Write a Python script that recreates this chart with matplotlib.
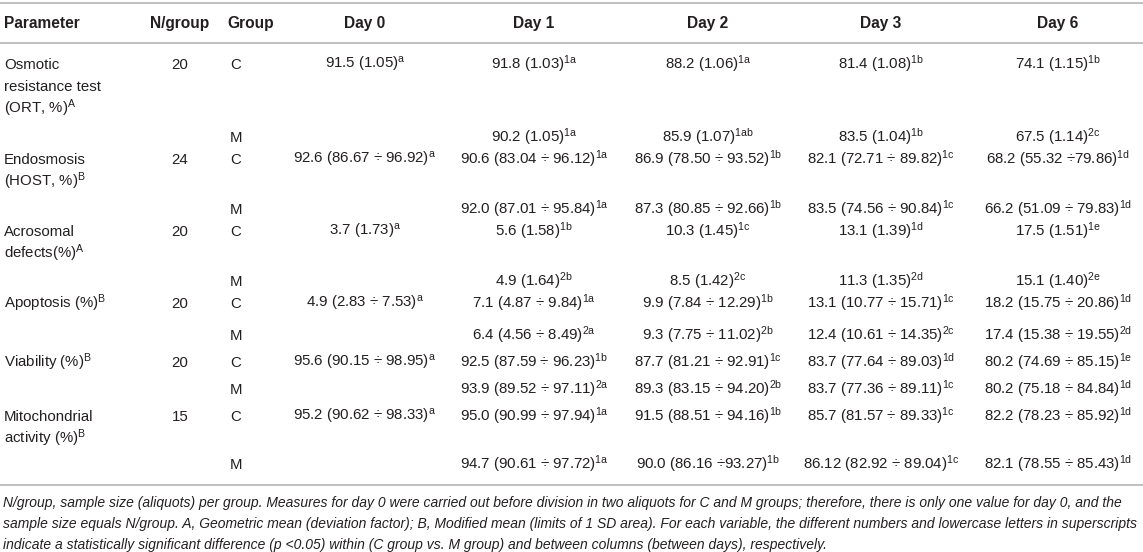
import matplotlib
matplotlib.use("Agg")
import matplotlib.pyplot as plt

plt.rcParams['font.family'] = ['Liberation Sans', 'DejaVu Sans']
plt.rcParams['mathtext.fontset'] = 'custom'
plt.rcParams['mathtext.rm'] = 'Liberation Sans'
plt.rcParams['mathtext.it'] = 'Liberation Sans:italic'
plt.rcParams['mathtext.bf'] = 'Liberation Sans:bold'

# table content
headers = ["Parameter", "N/group", "Group", "Day 0", "Day 1", "Day 2", "Day 3", "Day 6"]
params = [["Osmotic", "resistance test", "(ORT, %)"],
          ["Endosmosis", "(HOST, %)"],
          ["Acrosomal", "defects(%)"],
          ["Apoptosis (%)"],
          ["Viability (%)"],
          ["Mitochondrial", "activity (%)"]]
param_sup = ["A", "B", "A", "B", "B", "B"]
n_group = [20, 24, 20, 20, 20, 15]
groups = ["C", "M"]

day0 = ["91.5 (1.05)", "92.6 (86.67 ÷ 96.92)", "3.7 (1.73)",
        "4.9 (2.83 ÷ 7.53)", "95.6 (90.15 ÷ 98.95)", "95.2 (90.62 ÷ 98.33)"]
day0_sup = ["a", "a", "a", "a", "a", "a"]

day1_c = ["91.8 (1.03)", "90.6 (83.04 ÷ 96.12)", "5.6 (1.58)",
          "7.1 (4.87 ÷ 9.84)", "92.5 (87.59 ÷ 96.23)", "95.0 (90.99 ÷ 97.94)"]
day1_c_sup = ["1a", "1a", "1b", "1a", "1b", "1a"]
day1_m = ["90.2 (1.05)", "92.0 (87.01 ÷ 95.84)", "4.9 (1.64)",
          "6.4 (4.56 ÷ 8.49)", "93.9 (89.52 ÷ 97.11)", "94.7 (90.61 ÷ 97.72)"]
day1_m_sup = ["1a", "1a", "2b", "2a", "2a", "1a"]

day2_c = ["88.2 (1.06)", "86.9 (78.50 ÷ 93.52)", "10.3 (1.45)",
          "9.9 (7.84 ÷ 12.29)", "87.7 (81.21 ÷ 92.91)", "91.5 (88.51 ÷ 94.16)"]
day2_c_sup = ["1a", "1b", "1c", "1b", "1c", "1b"]
day2_m = ["85.9 (1.07)", "87.3 (80.85 ÷ 92.66)", "8.5 (1.42)",
          "9.3 (7.75 ÷ 11.02)", "89.3 (83.15 ÷ 94.20)", "90.0 (86.16 ÷93.27)"]
day2_m_sup = ["1ab", "1b", "2c", "2b", "2b", "1b"]

day3_c = ["81.4 (1.08)", "82.1 (72.71 ÷ 89.82)", "13.1 (1.39)",
          "13.1 (10.77 ÷ 15.71)", "83.7 (77.64 ÷ 89.03)", "85.7 (81.57 ÷ 89.33)"]
day3_c_sup = ["1b", "1c", "1d", "1c", "1d", "1c"]
day3_m = ["83.5 (1.04)", "83.5 (74.56 ÷ 90.84)", "11.3 (1.35)",
          "12.4 (10.61 ÷ 14.35)", "83.7 (77.36 ÷ 89.11)", "86.12 (82.92 ÷ 89.04)"]
day3_m_sup = ["1b", "1c", "2d", "2c", "1c", "1c"]

day6_c = ["74.1 (1.15)", "68.2 (55.32 ÷79.86)", "17.5 (1.51)",
          "18.2 (15.75 ÷ 20.86)", "80.2 (74.69 ÷ 85.15)", "82.2 (78.23 ÷ 85.92)"]
day6_c_sup = ["1b", "1d", "1e", "1d", "1e", "1d"]
day6_m = ["67.5 (1.14)", "66.2 (51.09 ÷ 79.83)", "15.1 (1.40)",
          "17.4 (15.38 ÷ 19.55)", "80.2 (75.18 ÷ 84.84)", "82.1 (78.55 ÷ 85.43)"]
day6_m_sup = ["2c", "1d", "2e", "2d", "1d", "1d"]

footnote = [
    "N/group, sample size (aliquots) per group. Measures for day 0 were carried out before division in two aliquots for C and M groups; therefore, there is only one value for day 0, and the",
    "sample size equals N/group. A, Geometric mean (deviation factor); B, Modified mean (limits of 1 SD area). For each variable, the different numbers and lowercase letters in superscripts",
    "indicate a statistically significant difference (p <0.05) within (C group vs. M group) and between columns (between days), respectively.",
]

# layout (pixels)
W, H = 1143, 552
c_rows = [64, 159, 231, 303, 362, 416]
m_rows = [137, 209, 281, 335, 389, 464]
day_x = [365, 534, 708, 881, 1058]
line_h = 22
fs = 10.8
txt_col = "#231f20"
rule_col = "#b4b4b4"


def sup(base, s):
    return base + r"$^{\mathrm{" + s + "}}$"


fig = plt.figure(figsize=(W / 100, H / 100), dpi=100)
ax = fig.add_axes([0, 0, 1, 1])
ax.set_xlim(0, W)
ax.set_ylim(H, 0)
ax.axis("off")

for y in [3, 43, 485]:
    ax.plot([0, W], [y, y], color=rule_col, lw=1.2)

# header
hy = 23 + 5
ax.text(4, hy, headers[0], fontsize=11.2, fontweight="bold", color=txt_col, va="baseline")
ax.text(180, hy, headers[1], fontsize=11.2, fontweight="bold", color=txt_col, va="baseline", ha="center")
ax.text(227, hy, headers[2], fontsize=11.2, fontweight="bold", color=txt_col, va="baseline")
for x, h in zip(day_x, headers[3:]):
    ax.text(x, hy, h, fontsize=11.2, fontweight="bold", color=txt_col, va="baseline", ha="center")

cols_c = [day1_c, day2_c, day3_c, day6_c]
cols_c_sup = [day1_c_sup, day2_c_sup, day3_c_sup, day6_c_sup]
cols_m = [day1_m, day2_m, day3_m, day6_m]
cols_m_sup = [day1_m_sup, day2_m_sup, day3_m_sup, day6_m_sup]

for i in range(len(params)):
    yc = c_rows[i] + 5
    ym = m_rows[i] + 5
    lines = params[i]
    for k, ln in enumerate(lines):
        s = sup(ln, param_sup[i]) if k == len(lines) - 1 else ln
        ax.text(4, yc + k * line_h, s, fontsize=fs, color=txt_col, va="baseline")
    ax.text(180, yc, str(n_group[i]), fontsize=fs, color=txt_col, va="baseline", ha="center")
    ax.text(230, yc, groups[0], fontsize=fs, color=txt_col, va="baseline")
    ax.text(230, ym, groups[1], fontsize=fs, color=txt_col, va="baseline")
    ax.text(day_x[0], yc, sup(day0[i], day0_sup[i]), fontsize=fs, color=txt_col,
            va="baseline", ha="center")
    for j in range(4):
        ax.text(day_x[j + 1], yc, sup(cols_c[j][i], cols_c_sup[j][i]), fontsize=fs,
                color=txt_col, va="baseline", ha="center")
        ax.text(day_x[j + 1], ym, sup(cols_m[j][i], cols_m_sup[j][i]), fontsize=fs,
                color=txt_col, va="baseline", ha="center")

for k, ln in enumerate(footnote):
    ax.text(3, 503 + k * 21 + 4, ln, fontsize=10.0, style="italic", color=txt_col, va="baseline")

fig.savefig("out.png", dpi=100)
